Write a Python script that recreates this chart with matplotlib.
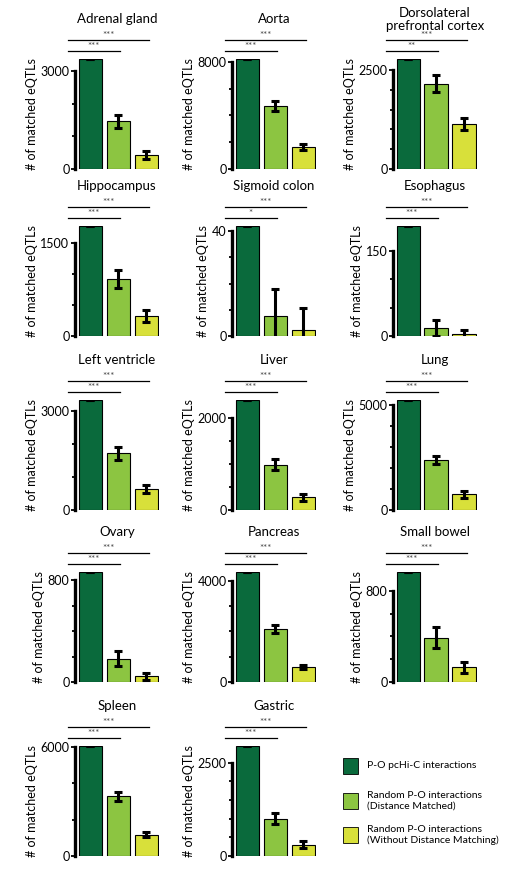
import matplotlib
matplotlib.use("Agg")
import matplotlib.pyplot as plt
from matplotlib.patches import Rectangle
from matplotlib.ticker import FixedLocator
import numpy as np

plt.rcParams['font.family'] = ['Lato', 'DejaVu Sans']

tissues = ["Adrenal gland", "Aorta", "Dorsolateral\nprefrontal cortex",
           "Hippocampus", "Sigmoid colon", "Esophagus",
           "Left ventricle", "Liver", "Lung",
           "Ovary", "Pancreas", "Small bowel",
           "Spleen", "Gastric"]
pcHiC = [3360, 8220, 2780, 1780, 42, 193, 3320, 2400, 5240, 865, 4350, 967, 6050, 2945]
dist_matched = [1455, 4710, 2150, 925, 7.7, 14.6, 1710, 990, 2365, 184, 2100, 390, 3290, 1000]
dist_matched_err = [200, 350, 215, 150, 10.3, 14, 200, 120, 190, 60, 150, 93, 240, 150]
no_dist = [424, 1640, 1140, 326, 2.3, 3.5, 634, 275, 743, 45, 590, 129, 1180, 305]
no_dist_err = [120, 200, 150, 95, 8.3, 7, 130, 85, 150, 26, 90, 47, 140, 96]
top_tick = [3000, 8000, 2500, 1500, 40, 150, 3000, 2000, 5000, 800, 4000, 800, 6000, 2500]
minor_step = [1000, 2000, 500, 500, 10, 50, 1000, 500, 1000, 200, 1000, 200, 2000, 500]
sig_short = ["***", "***", "**", "***", "*", "***", "***", "***", "***", "***", "***", "***", "***", "***"]
sig_long = ["***"] * 14

colors = ['#0a6a3c', '#8cc541', '#d8e03a']
legend_labels = ["P-O pcHi-C interactions",
                 "Random P-O interactions\n(Distance Matched)",
                 "Random P-O interactions\n(Without Distance Matching)"]

W, H = 531, 874
fig = plt.figure(figsize=(W / 100, H / 100), dpi=100)

col_left = [75, 232, 393]
row_zero = [169, 336, 510, 682, 856]
ax_w, ax_h = 84, 110

x = np.arange(3)
for i, name in enumerate(tissues):
    r, c = divmod(i, 3)
    ax = fig.add_axes([col_left[c] / W, 1 - row_zero[r] / H, ax_w / W, ax_h / H])
    vals = [pcHiC[i], dist_matched[i], no_dist[i]]
    errs = [0, dist_matched_err[i], no_dist_err[i]]
    ax.bar(x, vals, width=0.85, color=colors, edgecolor='black', linewidth=0.8,
           yerr=errs, capsize=3.2,
           error_kw=dict(elinewidth=2.2, capthick=2.2, ecolor='black'))
    ax.set_xlim(-0.55, 2.45)
    ax.set_ylim(0, pcHiC[i])
    for s in ['top', 'right', 'bottom']:
        ax.spines[s].set_visible(False)
    ax.spines['left'].set_linewidth(2.4)
    ax.spines['left'].set_bounds(0, top_tick[i])
    ax.set_xticks([])
    ax.set_yticks([0, top_tick[i]])
    ax.set_yticklabels(['0', f'{top_tick[i]}'])
    ax.yaxis.set_minor_locator(FixedLocator(np.arange(minor_step[i], top_tick[i], minor_step[i])))
    ax.tick_params(axis='y', which='major', length=3, width=1.3, labelsize=9, pad=1)
    ax.tick_params(axis='y', which='minor', length=2, width=1.3)
    ax.set_ylabel('# of matched eQTLs', fontsize=9, labelpad=2)
    ax.text(0.5, 1.36, name, transform=ax.transAxes, ha='center', va='center',
            fontsize=9.5, linespacing=1.15)

    # significance lines
    tr = ax.get_xaxis_transform()
    ax.plot([-0.8, 1.05], [1.075, 1.075], color='black', lw=0.9, transform=tr, clip_on=False)
    ax.plot([-0.8, 2.1], [1.175, 1.175], color='black', lw=0.9, transform=tr, clip_on=False)
    ax.text((-0.8 + 1.05) / 2, 1.07, sig_short[i], transform=tr, ha='center', va='bottom',
            fontsize=7, color='#444444')
    ax.text((-0.8 + 2.1) / 2, 1.17, sig_long[i], transform=tr, ha='center', va='bottom',
            fontsize=7, color='#444444')

# legend in the empty cell
sw_y = [766, 801, 835]
for col, lab, yc in zip(colors, legend_labels, sw_y):
    fig.add_artist(Rectangle((343 / W, 1 - (yc + 8) / H), 15 / W, 16 / H,
                             facecolor=col, edgecolor='black', linewidth=0.6,
                             transform=fig.transFigure))
    fig.text(367 / W, 1 - yc / H, lab, ha='left', va='center', fontsize=7.5, linespacing=1.3)

fig.savefig('out.png', dpi=100)
